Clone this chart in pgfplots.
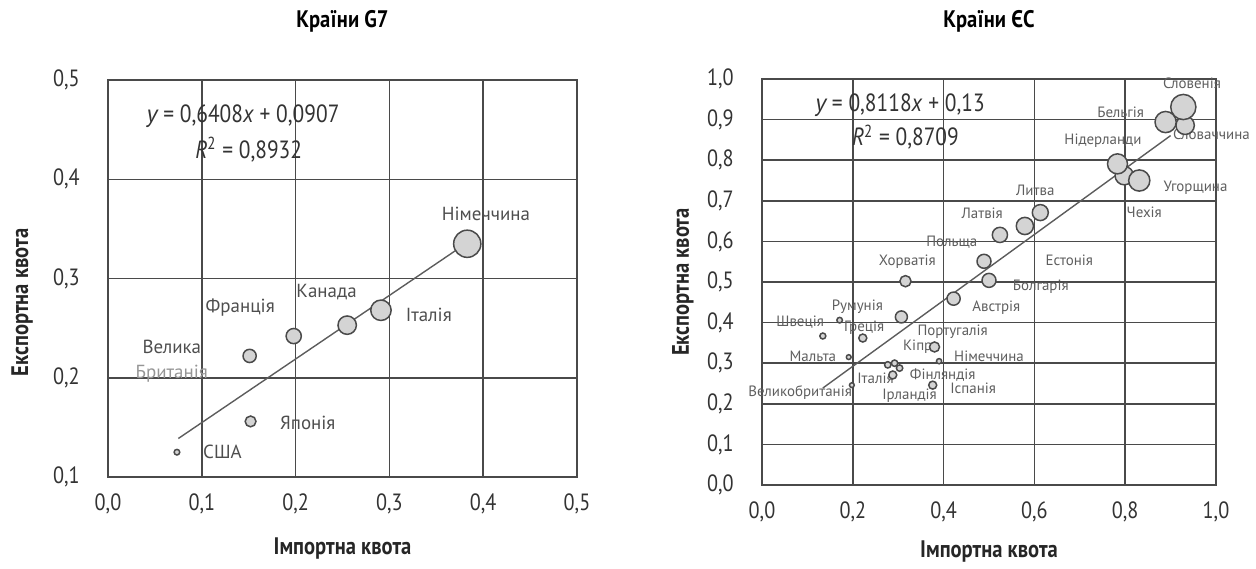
\documentclass[border=0pt]{standalone}
\usepackage{pgfplots}
\pgfplotsset{compat=1.18}
\usepackage{pgfplotstable}
\usepackage{fontspec}
\setmainfont{PT Sans}
\newfontfamily\tickfont[FakeStretch=0.86]{PT Sans}
\definecolor{gridc}{HTML}{4A4A4A}
\definecolor{bubfill}{HTML}{D4D4D4}
\definecolor{bubedge}{HTML}{4A4A4A}
\definecolor{labc}{HTML}{4E4E4E}
\definecolor{labr}{HTML}{5E5E5E}

% G7: import quota, export quota, bubble radius (bp)
\pgfplotstableread{
x y r
0.0735 0.125 1.4
0.152 0.156 2.7
0.151 0.222 3.3
0.198 0.242 3.8
0.255 0.253 4.6
0.291 0.268 5.1
0.383 0.335 6.8
}\gseven

% EU
\pgfplotstableread{
x y r
0.932 0.886 4.6
0.889 0.894 5.3
0.928 0.931 6.3
0.798 0.762 4.6
0.783 0.791 5.0
0.831 0.750 5.3
0.613 0.671 4.0
0.579 0.638 4.3
0.524 0.616 3.8
0.489 0.551 3.5
0.500 0.504 3.5
0.316 0.502 2.8
0.422 0.459 3.3
0.307 0.414 3.0
0.171 0.406 1.4
0.134 0.367 1.5
0.222 0.362 2.0
0.191 0.315 1.2
0.380 0.340 2.5
0.390 0.305 1.3
0.376 0.246 2.0
0.198 0.246 1.2
0.277 0.296 1.6
0.292 0.300 1.6
0.303 0.288 1.6
0.288 0.271 2.0
}\eu

\pgfplotsset{
  myax/.style={
    scale only axis,
    axis line style={gridc, line width=0.9pt},
    grid=major,
    grid style={gridc, line width=0.75pt},
    major tick length=0pt,
    tick style={draw=none},
    tick label style={font=\tickfont\fontsize{11.8}{12}\selectfont, text=black!80, inner sep=0pt},
    xticklabel style={anchor=north},
    yticklabel style={anchor=east},
    xticklabel shift=8bp,
    yticklabel shift=14bp,
    /pgf/number format/use comma,
    /pgf/number format/fixed,
    /pgf/number format/fixed zerofill,
    /pgf/number format/precision=1,
    /pgf/number format/assume math mode=true,
    title style={font=\tickfont\bfseries\fontsize{12}{12}\selectfont, anchor=center},
    xlabel style={font=\tickfont\bfseries\fontsize{12}{12}\selectfont, anchor=center, text=black!85},
    ylabel style={font=\tickfont\bfseries\fontsize{12}{12}\selectfont, anchor=center, text=black!85},
    clip=false,
  },
  bub/.style={
    scatter, only marks, mark=*,
    point meta=0,
    scatter/use mapped color={fill=bubfill, draw=bubedge},
    mark options={line width=0.75pt},
    visualization depends on={\thisrow{r} \as \rad},
    scatter/@pre marker code/.append style={/tikz/mark size=\rad bp},
  },
}

\begin{document}
\begin{tikzpicture}
\useasboundingbox (0,0) rectangle (628bp,-284.5bp);

% ---------------- G7 ----------------
\begin{axis}[myax,
  at={(54bp,-40bp)}, anchor=north west,
  width=234.5bp, height=198.5bp,
  xmin=0, xmax=0.5, ymin=0.1, ymax=0.5,
  xtick={0,0.1,0.2,0.3,0.4,0.5},
  ytick={0.1,0.2,0.3,0.4,0.5},
  title={Країни G7},
  title style={at={(axis description cs:0.5,1.118)}},
  xlabel={Імпортна квота},
  xlabel style={at={(axis description cs:0.5,-0.179)}},
  ylabel={Експортна квота},
  ylabel style={at={(axis description cs:-0.183,0.44)}},
]
\addplot[bub] table[x=x, y=y] {\gseven};
\addplot[gridc!90, line width=0.7pt] coordinates {(0.075,0.1388) (0.385,0.3374)};
\begin{scope}[every node/.style={font=\fontsize{9.5}{10}\selectfont, text=labc}]
\node at (axis cs:0.403,0.365) {Німеччина};
\node at (axis cs:0.342,0.263) {Італія};
\node at (axis cs:0.233,0.286) {Канада};
\node at (axis cs:0.141,0.271) {Франція};
\node at (axis cs:0.068,0.231) {Велика};
\node[text=labc!60] at (axis cs:0.068,0.204) {Британія};
\node at (axis cs:0.213,0.155) {Японія};
\node at (axis cs:0.122,0.125) {США};
\end{scope}
\node[font=\tickfont\fontsize{12.5}{13}\selectfont, text=black!80] at (axis cs:0.144,0.464) {$\mathit{y}$ = 0,6408\textit{x} + 0,0907};
\node[font=\tickfont\fontsize{12.5}{13}\selectfont, text=black!80] at (axis cs:0.150,0.430) {\textit{R}\textsuperscript{2} = 0,8932};
\end{axis}

% ---------------- EU ----------------
\begin{axis}[myax,
  at={(381bp,-39.5bp)}, anchor=north west,
  width=227bp, height=203bp,
  xmin=0, xmax=1, ymin=0, ymax=1,
  xtick={0,0.2,0.4,0.6,0.8,1.0},
  ytick={0,0.1,0.2,0.3,0.4,0.5,0.6,0.7,0.8,0.9,1.0},
  title={Країни ЄС},
  title style={at={(axis description cs:0.5,1.113)}},
  xlabel={Імпортна квота},
  xlabel style={at={(axis description cs:0.5,-0.165)}},
  ylabel={Експортна квота},
  ylabel style={at={(axis description cs:-0.174,0.5)}},
]
\addplot[bub] table[x=x, y=y] {\eu};
\addplot[gridc!90, line width=0.7pt] coordinates {(0.134,0.2388) (0.90,0.8606)};
\begin{scope}[every node/.style={font=\fontsize{7.5}{8}\selectfont, text=labr}]
\node at (axis cs:0.947,0.989) {Словенія};
\node at (axis cs:0.790,0.919) {Бельгія};
\node at (axis cs:0.990,0.864) {Словаччина};
\node at (axis cs:0.751,0.849) {Нідерланди};
\node at (axis cs:0.955,0.733) {Угорщина};
\node at (axis cs:0.842,0.671) {Чехія};
\node at (axis cs:0.602,0.725) {Литва};
\node at (axis cs:0.485,0.669) {Латвія};
\node at (axis cs:0.418,0.597) {Польща};
\node at (axis cs:0.677,0.553) {Естонія};
\node at (axis cs:0.320,0.549) {Хорватія};
\node at (axis cs:0.614,0.488) {Болгарія};
\node at (axis cs:0.516,0.437) {Австрія};
\node at (axis cs:0.210,0.440) {Румунія};
\node at (axis cs:0.084,0.401) {Швеція};
\node at (axis cs:0.225,0.388) {Греція};
\node at (axis cs:0.112,0.318) {Мальта};
\node at (axis cs:0.420,0.377) {Португалія};
\node at (axis cs:0.343,0.340) {Кіпр};
\node at (axis cs:0.500,0.318) {Німеччина};
\node at (axis cs:0.398,0.271) {Фінляндія};
\node at (axis cs:0.250,0.262) {Італія};
\node at (axis cs:0.084,0.227) {Великобританія};
\node at (axis cs:0.325,0.220) {Ірландія};
\node at (axis cs:0.465,0.239) {Іспанія};
\end{scope}
\node[font=\tickfont\fontsize{12.5}{13}\selectfont, text=black!80] at (axis cs:0.304,0.936) {$\mathit{y}$ = 0,8118\textit{x} + 0,13};
\node[font=\tickfont\fontsize{12.5}{13}\selectfont, text=black!80] at (axis cs:0.316,0.857) {\textit{R}\textsuperscript{2} = 0,8709};
\end{axis}
\end{tikzpicture}
\end{document}
